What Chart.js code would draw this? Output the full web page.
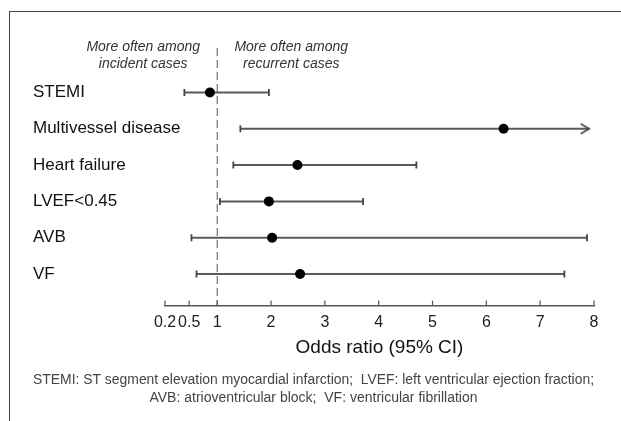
<!DOCTYPE html>
<html>
<head>
<meta charset="utf-8">
<script src="https://cdn.jsdelivr.net/npm/chart.js@4.4.1/dist/chart.umd.min.js"></script>
<style>
  body { margin: 0; background: #fff; }
  #frame { position: absolute; left: 9px; top: 11px; width: 700px; height: 500px;
           border-left: 1.5px solid #444; border-top: 1.5px solid #444; }
  #forest { position: absolute; left: 0; top: 0; }
</style>
</head>
<body>
<div id="frame"></div>
<canvas id="forest" width="621" height="421"></canvas>
<script>
var categories = ["STEMI", "Multivessel disease", "Heart failure", "LVEF<0.45", "AVB", "VF"];
var oddsRatio  = [0.87, 6.32, 2.49, 1.96, 2.02, 2.54];
var ciLower    = [0.44, 1.43, 1.30, 1.05, 0.54, 0.63];
var ciUpper    = [1.96, 7.91, 4.70, 3.71, 7.87, 7.45];
var ciCut      = [false, true, false, false, false, false];   // upper CI runs off the axis

var tickValues = [0.2, 0.5, 1, 2, 3, 4, 5, 6, 7, 8];
// axis is squeezed below 1: where each tick sits in axis units
var tickUnits  = [0.03, 0.48, 1, 2, 3, 4, 5, 6, 7, 8];

var footnote = [
    "STEMI: ST segment elevation myocardial infarction;  LVEF: left ventricular ejection fraction;",
    "AVB: atrioventricular block;  VF: ventricular fibrillation"
];
var FONT = "'Liberation Sans', Arial, sans-serif";

// map an odds ratio onto the (piecewise) axis
function axisPos(v) {
    for (let i = 1; i < tickValues.length; i++) {
        if (v <= tickValues[i]) {
            let f = (v - tickValues[i - 1]) / (tickValues[i] - tickValues[i - 1]);
            return tickUnits[i - 1] + f * (tickUnits[i] - tickUnits[i - 1]);
        }
    }
    return tickUnits[tickUnits.length - 1];
}

function arrowHead() {
    let c = document.createElement("canvas");
    c.width = 22; c.height = 13;
    let g = c.getContext("2d");
    g.strokeStyle = "#444";
    g.lineWidth = 1.6;
    g.beginPath();
    g.moveTo(2.5, 1.5); g.lineTo(11, 6.5); g.lineTo(2.5, 11.5);
    g.stroke();
    return c;
}
var arrow = arrowHead();

var datasets = [{
    label: "Odds ratio",
    data: oddsRatio.map((v, i) => ({x: axisPos(v), y: i})),
    showLine: false,
    pointRadius: 5,
    pointBackgroundColor: "#000",
    pointBorderColor: "#000",
    pointBorderWidth: 0
}];

categories.forEach((c, i) => {
    datasets.push({
        label: c + " 95% CI",
        data: [{x: axisPos(ciLower[i]), y: i}, {x: axisPos(ciUpper[i]), y: i}],
        showLine: true,
        borderColor: "#5a5a5a",
        borderWidth: 2,
        pointStyle: ["line", ciCut[i] ? arrow : "line"],
        pointRotation: [90, ciCut[i] ? 0 : 90],
        pointRadius: 3.5,
        pointBorderColor: "#444",
        pointBorderWidth: 1.8
    });
});

var forestDecor = {
    id: "forestDecor",
    beforeDatasetsDraw(chart) {
        const {ctx, chartArea, scales: {x, y}} = chart;
        const x1 = x.getPixelForValue(axisPos(1));
        ctx.save();
        // row labels, left aligned at the left edge of the y axis box
        // (chart.js clips tick labels to the axis box, and the long one overhangs)
        ctx.font = "17px " + FONT;
        ctx.fillStyle = "#111";
        ctx.textAlign = "left";
        ctx.textBaseline = "middle";
        categories.forEach((c, i) => ctx.fillText(c, y.left, y.getPixelForValue(i)));
        // tick marks point up into the plot
        ctx.strokeStyle = "#555";
        ctx.lineWidth = 1.2;
        x.ticks.forEach(t => {
            let px = x.getPixelForValue(t.value);
            ctx.beginPath();
            ctx.moveTo(px, chartArea.bottom);
            ctx.lineTo(px, chartArea.bottom - 5);
            ctx.stroke();
        });
        // no-effect line
        ctx.setLineDash([8, 4]);
        ctx.lineWidth = 1;
        ctx.beginPath();
        ctx.moveTo(x1, chartArea.top + 10);
        ctx.lineTo(x1, chartArea.bottom);
        ctx.stroke();
        ctx.setLineDash([]);
        // side captions
        ctx.font = "italic 14px " + FONT;
        ctx.fillStyle = "#333";
        ctx.textAlign = "center";
        ctx.fillText("More often among", x1 - 74, chartArea.top + 9);
        ctx.fillText("incident cases", x1 - 74, chartArea.top + 26);
        ctx.fillText("More often among", x1 + 74, chartArea.top + 9);
        ctx.fillText("recurrent cases", x1 + 74, chartArea.top + 26);
        ctx.restore();
    }
};

new Chart(document.getElementById("forest"), {
    type: "scatter",
    data: {datasets: datasets},
    plugins: [forestDecor],
    options: {
        responsive: false,
        animation: false,
        layout: {padding: {left: 33, right: 27, top: 38, bottom: 0}},
        scales: {
            x: {
                type: "linear",
                min: tickUnits[0],
                max: tickUnits[tickUnits.length - 1],
                afterBuildTicks: (axis) => { axis.ticks = tickUnits.map(v => ({value: v})); },
                afterFit: (axis) => { axis.height = 54; },
                grid: {display: false, drawTicks: false},
                border: {display: true, color: "#555", width: 1.5},
                ticks: {
                    autoSkip: false,
                    maxRotation: 0,
                    padding: 7,
                    color: "#222",
                    font: {family: FONT, size: 16},
                    callback: (v) => {
                        let k = tickUnits.indexOf(v);
                        return k < 0 ? "" : String(tickValues[k]);
                    }
                },
                title: {
                    display: true,
                    text: "Odds ratio (95% CI)",
                    color: "#111",
                    padding: 0,
                    font: {family: FONT, size: 19}
                }
            },
            y: {
                type: "linear",
                reverse: true,
                min: -1.5,
                max: 5.87,
                afterBuildTicks: (axis) => { axis.ticks = categories.map((c, i) => ({value: i})); },
                afterFit: (axis) => { axis.width = 132; },
                grid: {display: false, drawTicks: false},
                border: {display: false},
                ticks: {display: false}
            }
        },
        plugins: {
            legend: {display: false},
            tooltip: {enabled: false},
            title: {
                display: true,
                position: "bottom",
                text: footnote,
                color: "#444",
                padding: {top: 11, bottom: 14},
                font: {family: FONT, size: 14, weight: "normal", lineHeight: 1.3}
            }
        }
    }
});
</script>
</body>
</html>
